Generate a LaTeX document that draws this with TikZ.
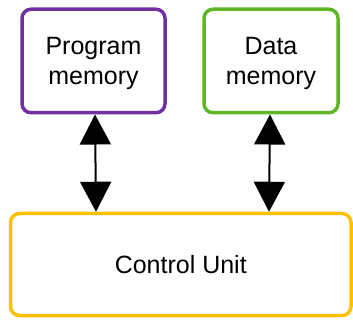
\documentclass[tikz,border=0pt]{standalone}
\usepackage{fontspec}
\setmainfont{Liberation Sans}
\usetikzlibrary{arrows.meta}
\definecolor{cpurple}{HTML}{70309F}
\definecolor{cgreen}{HTML}{5EB526}
\definecolor{corange}{HTML}{FFC000}
\begin{document}
\begin{tikzpicture}[x=1pt,y=-1pt,
  box/.style={draw, line width=3.5pt, rounded corners=9pt, align=center,
    font=\fontsize{25}{29.5}\selectfont, inner sep=0pt},
  arr/.style={line width=2pt, {Triangle[width=31pt,length=30pt]}-{Triangle[width=31pt,length=30pt]}}]
\useasboundingbox (0,0) rectangle (353,320);
\node[box, draw=cpurple, minimum width=143pt, minimum height=103.5pt, text depth=0pt] (pm) at (93.5,61) {Program\\memory};
\node[box, draw=cgreen, minimum width=134pt, minimum height=103.5pt, text depth=0pt] (dm) at (271,61) {Data\\memory};
\node[box, draw=corange, minimum width=340.5pt, minimum height=102pt] (cu) at (180.75,264.5) {Control Unit};
\draw[arr] ([xshift=1.5pt]pm.south) -- ([xshift=2.5pt]pm.south |- cu.north);
\draw[arr] ([xshift=-1pt]dm.south) -- ([xshift=-2pt]dm.south |- cu.north);
\end{tikzpicture}
\end{document}
